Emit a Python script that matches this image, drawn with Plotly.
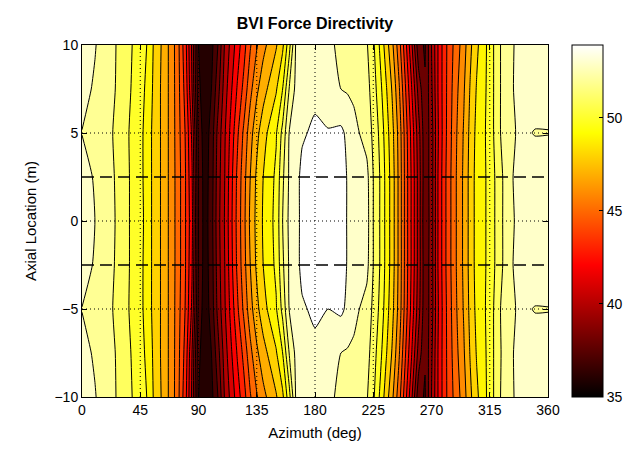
import plotly.graph_objects as go

# ---------------- data ----------------
AZIMUTH = [0, 10, 20, 30, 40,
           45, 50, 55, 60, 65, 70, 75, 80,
           85, 90, 95, 100, 105, 110, 115, 120,
           125, 130, 135, 140, 150, 155, 160, 165,
           170, 180, 190, 200, 205, 210, 220, 225,
           230, 235, 240, 245, 250, 255, 260, 265,
           270, 275, 280, 285, 290, 295, 300, 305,
           310, 315, 320, 325, 330, 335, 340, 350, 360]

AXIAL = [-10, -7.5, -5, -2.5, 0, 2.5, 5, 7.5, 10]

ROW_M10 = [52.5, 52.05, 51.5, 50.7, 49.9,
           49.4, 49.0, 48.0, 47.2, 46.3, 45.4, 44.0, 42.3,
           39.8, 36.0, 35.1, 35.7, 37.0, 39.0, 40.3, 41.5,
           42.6, 43.9, 44.9, 45.7, 46.9, 47.8, 49.6, 52.0,
           52.4, 52.7, 52.2, 51.8, 51.7, 51.5, 51.1, 50.2,
           48.9, 47.5, 46.1, 44.4, 42.3, 40.0, 37.3, 36.9,
           39.0, 41.0, 42.6, 43.7, 44.6, 45.6, 46.8, 47.8,
           48.6, 49.4, 50.4, 51.3, 51.7, 52.1, 52.3, 52.4, 52.5]
ROW_M7 = [52.25, 51.9, 51.4, 50.7, 49.8,
          49.4, 48.8, 47.9, 47.1, 46.3, 45.4, 44.1, 42.6,
          40.0, 36.3, 35.2, 36.0, 37.6, 39.4, 40.8, 42.1,
          43.3, 44.7, 45.8, 46.6, 47.9, 49.0, 51.0, 52.2,
          52.5, 52.8, 52.6, 52.0, 51.9, 51.8, 51.4, 50.5,
          49.4, 48.1, 46.8, 45.1, 43.0, 40.9, 38.6, 37.1,
          38.8, 41.0, 42.6, 43.8, 44.9, 45.9, 47.1, 48.1,
          48.7, 49.4, 50.4, 51.2, 51.8, 52.1, 52.3, 52.3, 52.25]
ROW_M5 = [51.98, 51.6, 51.3, 50.5, 49.7,
          49.3, 48.6, 47.8, 47.1, 46.3, 45.4, 44.2, 42.9,
          40.8, 36.7, 35.4, 36.4, 38.3, 39.8, 41.3, 42.8,
          44.2, 45.6, 46.7, 47.6, 48.9, 50.3, 52.0, 52.4,
          52.9, 53.15, 53.0, 53.2, 52.8, 52.3, 51.6, 50.8,
          49.8, 48.5, 47.2, 45.6, 43.5, 41.5, 39.4, 37.3,
          38.5, 40.9, 42.6, 43.9, 45.1, 46.1, 47.3, 48.3,
          48.8, 49.4, 50.4, 51.3, 51.6, 52.0, 52.1, 51.97, 51.98]
ROW_M2 = [52.4, 51.9, 51.4, 50.6, 49.7,
          49.3, 48.6, 47.8, 47.1, 46.3, 45.4, 44.3, 43.0,
          41.1, 36.9, 35.5, 36.5, 38.5, 39.9, 41.6, 43.2,
          44.6, 46.0, 47.2, 48.0, 49.2, 50.8, 52.1, 52.7,
          53.2, 53.5, 53.7, 53.4, 52.95, 52.7, 52.3, 51.0,
          50.0, 48.7, 47.4, 45.7, 43.6, 41.7, 39.6, 37.3,
          38.5, 41.0, 42.7, 44.0, 45.2, 46.2, 47.4, 48.4,
          48.8, 49.3, 50.2, 51.0, 51.7, 52.2, 52.4, 52.4, 52.4]
ROW_0 = [52.6, 52.0, 51.5, 50.6, 49.7,
         49.4, 48.6, 47.8, 47.1, 46.3, 45.4, 44.3, 43.0,
         41.3, 37.0, 35.5, 36.6, 38.6, 40.0, 41.7, 43.3,
         44.7, 46.2, 47.3, 48.1, 49.3, 51.0, 52.2, 52.7,
         53.2, 53.6, 53.8, 53.4, 52.95, 52.7, 52.4, 51.0,
         50.0, 48.7, 47.4, 45.7, 43.6, 41.7, 39.6, 37.2,
         38.5, 41.0, 42.7, 44.0, 45.2, 46.2, 47.4, 48.4,
         48.8, 49.3, 50.2, 51.0, 51.6, 52.1, 52.4, 52.5, 52.6]
ROW_P2 = [52.4, 51.9, 51.4, 50.6, 49.7,
          49.3, 48.6, 47.8, 47.1, 46.3, 45.4, 44.3, 43.0,
          41.1, 36.9, 35.5, 36.5, 38.5, 39.9, 41.6, 43.2,
          44.6, 46.0, 47.2, 48.0, 49.2, 50.8, 52.1, 52.7,
          53.2, 53.5, 53.7, 53.4, 52.95, 52.7, 52.3, 51.0,
          50.0, 48.7, 47.4, 45.7, 43.6, 41.7, 39.6, 37.3,
          38.5, 41.0, 42.7, 44.0, 45.2, 46.2, 47.4, 48.4,
          48.8, 49.3, 50.2, 51.0, 51.7, 52.2, 52.4, 52.4, 52.4]
ROW_P5 = [51.98, 51.6, 51.3, 50.5, 49.7,
          49.3, 48.6, 47.8, 47.1, 46.3, 45.4, 44.2, 42.9,
          40.8, 36.7, 35.4, 36.4, 38.3, 39.8, 41.3, 42.8,
          44.2, 45.6, 46.7, 47.6, 48.9, 50.3, 52.0, 52.4,
          52.9, 53.15, 53.05, 53.2, 52.8, 52.3, 51.6, 50.8,
          49.8, 48.5, 47.2, 45.6, 43.5, 41.5, 39.4, 37.3,
          38.5, 40.9, 42.6, 43.9, 45.1, 46.1, 47.3, 48.3,
          48.8, 49.4, 50.4, 51.3, 51.6, 52.0, 52.1, 51.97, 51.98]
ROW_P7 = [52.25, 51.9, 51.4, 50.7, 49.8,
          49.4, 48.8, 47.9, 47.1, 46.3, 45.4, 44.1, 42.6,
          40.0, 36.3, 35.2, 36.0, 37.6, 39.4, 40.8, 42.1,
          43.3, 44.7, 45.8, 46.6, 47.9, 49.0, 51.0, 52.2,
          52.5, 52.8, 52.6, 52.0, 51.9, 51.8, 51.4, 50.5,
          49.4, 48.1, 46.8, 45.1, 43.0, 40.9, 38.6, 37.1,
          38.8, 41.0, 42.6, 43.8, 44.9, 45.9, 47.1, 48.1,
          48.7, 49.4, 50.4, 51.3, 51.8, 52.1, 52.3, 52.3, 52.25]
ROW_P10 = [52.5, 52.05, 51.5, 50.7, 49.9,
           49.4, 49.0, 48.0, 47.2, 46.3, 45.4, 44.0, 42.3,
           39.8, 36.0, 35.1, 35.7, 37.0, 39.0, 40.3, 41.5,
           42.6, 43.9, 44.9, 45.7, 46.9, 47.8, 49.6, 52.0,
           52.4, 52.7, 52.2, 51.8, 51.7, 51.5, 51.1, 50.2,
           48.9, 47.5, 46.1, 44.4, 42.3, 40.0, 37.3, 36.9,
           39.0, 41.0, 42.6, 43.7, 44.6, 45.6, 46.8, 47.8,
           48.6, 49.4, 50.4, 51.3, 51.7, 52.1, 52.3, 52.4, 52.5]

LEVEL_START, LEVEL_END, LEVEL_STEP = 35, 53, 1
CBAR_MIN, CBAR_MAX = 35, 53.9
CBAR_TICKS = [35, 40, 45, 50]
X_TICKS = [0, 45, 90, 135, 180, 225, 270, 315, 360]
Y_TICKS = [-10, -5, 0, 5, 10]
DASHED_Y = [-2.5, 2.5]

TITLE = "BVI Force Directivity"
X_LABEL = "Azimuth (deg)"
Y_LABEL = "Axial Location (m)"

# ---------------- figure ----------------
Z = [ROW_M10, ROW_M7, ROW_M5, ROW_M2, ROW_0, ROW_P2, ROW_P5, ROW_P7, ROW_P10]

HOT = [[0.0, "rgb(0,0,0)"], [0.375, "rgb(255,0,0)"],
       [0.75, "rgb(255,255,0)"], [1.0, "rgb(255,255,255)"]]
FONT = "Liberation Sans, Arial, Helvetica, sans-serif"

fig = go.Figure()
fig.add_trace(go.Contour(
    x=AZIMUTH, y=AXIAL, z=Z,
    colorscale=HOT,
    contours=dict(start=LEVEL_START, end=LEVEL_END, size=LEVEL_STEP, coloring="fill"),
    line=dict(color="black", width=1, smoothing=0.5),
    showscale=False, hoverinfo="skip",
))
fig.add_trace(go.Scatter(
    x=[None], y=[None], mode="markers", showlegend=False, hoverinfo="skip",
    marker=dict(color=[CBAR_MIN], colorscale=HOT, cmin=CBAR_MIN, cmax=CBAR_MAX,
                showscale=True,
                colorbar=dict(thickness=31, thicknessmode="pixels",
                              len=1, lenmode="fraction", y=0.5, yanchor="middle",
                              x=1.051, xanchor="left", xpad=0, ypad=0,
                              outlinewidth=1, outlinecolor="black",
                              tickvals=CBAR_TICKS, ticks="inside", ticklen=4,
                              tickcolor="black",
                              tickfont=dict(family=FONT, size=14, color="black"))),
))

shapes = []
for t in X_TICKS[1:-1]:
    shapes.append(dict(type="line", xref="x", yref="y", x0=t, x1=t,
                       y0=Y_TICKS[0], y1=Y_TICKS[-1], layer="above",
                       line=dict(color="black", width=1, dash="1px,3px")))
for t in Y_TICKS[1:-1]:
    shapes.append(dict(type="line", xref="x", yref="y", y0=t, y1=t,
                       x0=X_TICKS[0], x1=X_TICKS[-1], layer="above",
                       line=dict(color="black", width=1, dash="1px,3px")))
for yv in DASHED_Y:
    shapes.append(dict(type="line", xref="x", yref="y", y0=yv, y1=yv,
                       x0=X_TICKS[0], x1=X_TICKS[-1], layer="above",
                       line=dict(color="black", width=1.3, dash="12px,6px")))

axis_common = dict(showline=True, linecolor="black", linewidth=1, mirror="ticks",
                   ticks="inside", ticklen=5, tickcolor="black",
                   showgrid=False, zeroline=False,
                   tickfont=dict(family=FONT, size=14, color="black"))

# page body has an 8px default margin, so the figure is sized to fit inside it
fig.update_layout(
    width=631, height=452,
    margin=dict(l=74, r=88, t=37, b=63),
    paper_bgcolor="white", plot_bgcolor="white",
    title=dict(text="<b>" + TITLE + "</b>", x=0.5, xref="paper",
               y=1 - 15 / 452, yref="container", yanchor="middle",
               font=dict(family=FONT, size=16, color="black")),
    xaxis=dict(range=[X_TICKS[0], X_TICKS[-1]], tickvals=X_TICKS,
               title=dict(text=X_LABEL, standoff=10,
                          font=dict(family=FONT, size=15, color="black")),
               **axis_common),
    yaxis=dict(range=[Y_TICKS[0], Y_TICKS[-1]], tickvals=Y_TICKS,
               title=dict(text=Y_LABEL, standoff=14,
                          font=dict(family=FONT, size=15, color="black")),
               **axis_common),
    shapes=shapes,
    showlegend=False,
)

fig.write_html("out.html")
